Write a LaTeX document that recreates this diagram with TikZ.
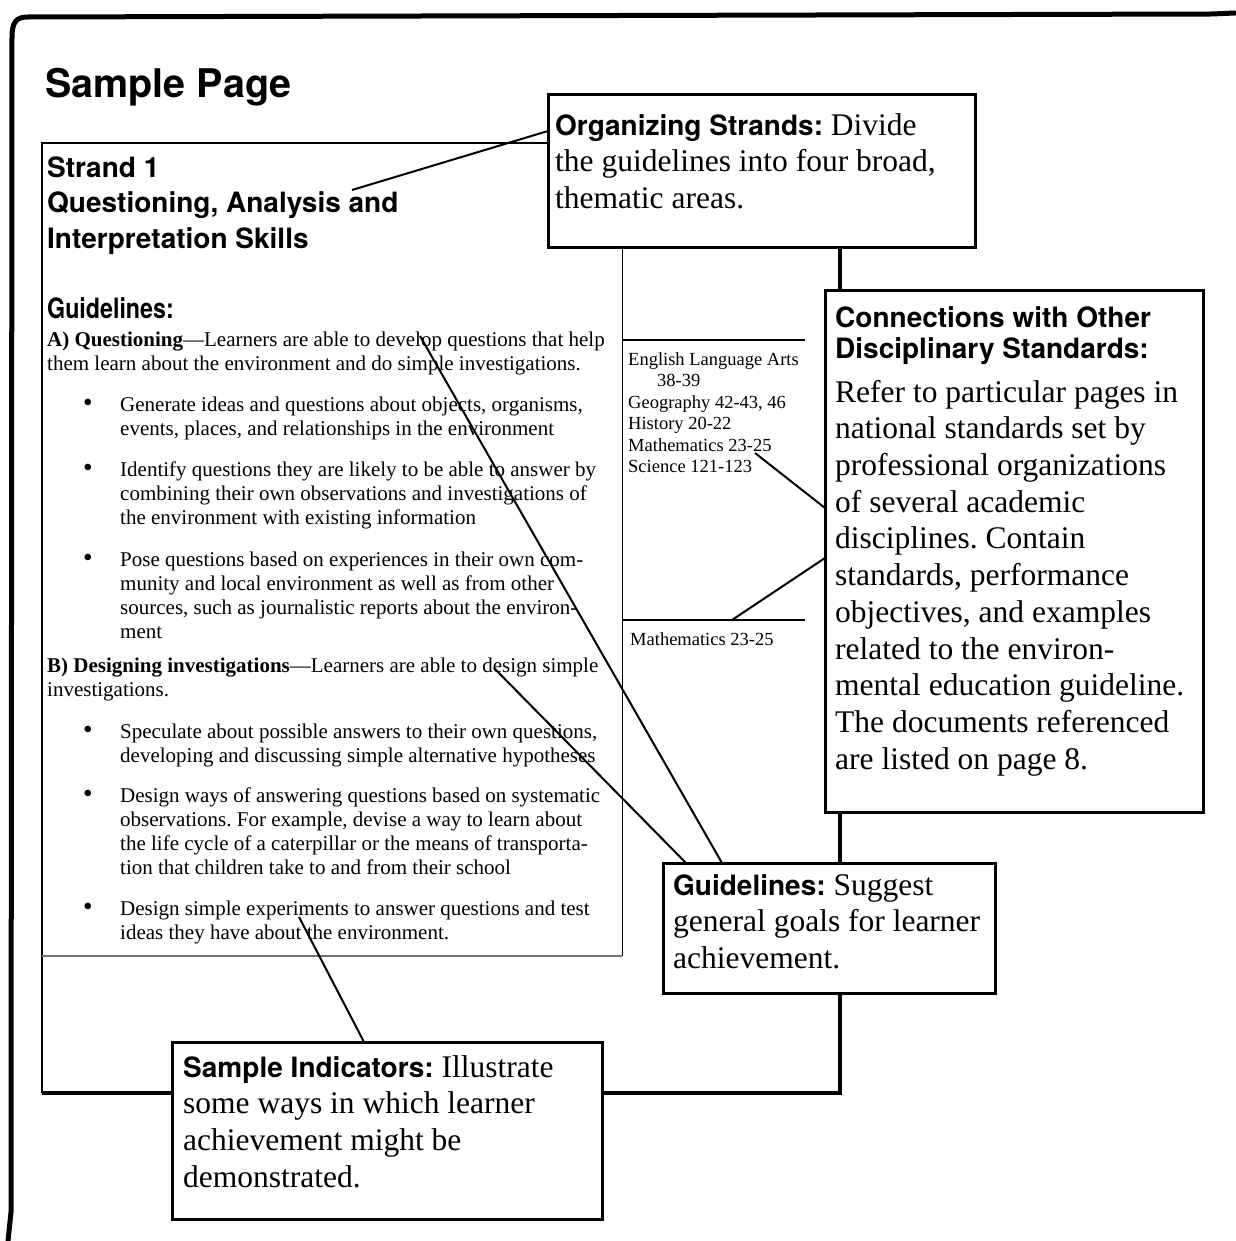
\documentclass[tikz,border=0pt]{standalone}
\usepackage{fontspec}
\usepackage{graphicx}
\setmainfont{Liberation Serif}
\setsansfont{TeX Gyre Heros}
\frenchspacing
\newcommand\boxhead[1]{{\sffamily\bfseries\fontsize{28}{36.7}\selectfont #1}}

\begin{document}
\begin{tikzpicture}[x=1pt, y=-1pt,
    callout/.style  = {draw, line width=3pt, fill=white, inner sep=0pt,
                       outer sep=0pt, anchor=north west},
    boxtext/.style  = {anchor=north west, inner sep=0pt, align=left,
                       font=\fontsize{31.5}{36.7}\selectfont},
    heading/.style  = {anchor=north west, inner sep=0pt, align=left,
                       font=\sffamily\bfseries\fontsize{28}{35.5}\selectfont},
    pagetext/.style = {anchor=north west, inner sep=0pt, align=left,
                       font=\fontsize{21}{24}\selectfont},
    sidetext/.style = {anchor=north west, inner sep=0pt, align=left,
                       font=\fontsize{18.5}{21.5}\selectfont},
    pointer/.style  = {line width=2pt},
  ]
  \useasboundingbox (0,0) rectangle (1235,1241);

  % frame of the sheet
  \draw[line width=5pt, line join=round, line cap=round]
    (1235,13) -- (1212,14) -- (28,17) .. controls (16,17) and (12,22) .. (12,38)
    -- (11,1212) -- (8,1241);

  % the page and its columns
  \draw[line width=2pt] (840,143) -- (42,143) -- (42,1093);
  \draw[line width=3.5pt] (42,1093) -- (840,1093) -- (840,143);
  \draw[line width=1pt] (622,143) -- (622,956);
  \draw[line width=2pt, black!55] (42,956) -- (622,956);
  \draw[line width=2pt] (622,340) -- (805,340);
  \draw[line width=2pt] (622,620) -- (805,620);

  \node[anchor=base west, inner sep=0pt,
    font=\sffamily\bfseries\fontsize{39.5}{44}\selectfont] (title) at (45,98) {Sample Page};

  \node[heading] (strand) at (47,152.15)
    {\strut Strand 1\\Questioning, Analysis and\\Interpretation Skills};
  \node[heading] (guidehead) at (47,293.15) {\strut\scalebox{0.83}[1]{Guidelines:}};

  \node[pagetext] (parA) at (47,329.2)
    {\strut\textbf{A) Questioning}---Learners are able to develop questions that help\\
     them learn about the environment and do simple investigations.};
  \node[pagetext] (item1) at (120,394.2)
    {\strut Generate ideas and questions about objects, organisms,\\
     events, places, and relationships in the environment};
  \node[pagetext] (item2) at (120,459.2)
    {\strut Identify questions they are likely to be able to answer by\\
     combining their own observations and investigations of\\
     the environment with existing information};
  \node[pagetext] (item3) at (120,549.2)
    {\strut Pose questions based on experiences in their own com-\\
     munity and local environment as well as from other\\
     sources, such as journalistic reports about the environ-\\
     ment};
  \node[pagetext] (parB) at (47,655.2)
    {\strut\textbf{B) Designing investigations}---Learners are able to design simple\\
     investigations.};
  \node[pagetext] (item4) at (120,721.2)
    {\strut Speculate about possible answers to their own questions,\\
     developing and discussing simple alternative hypotheses};
  \node[pagetext] (item5) at (120,785.2)
    {\strut Design ways of answering questions based on systematic\\
     observations. For example, devise a way to learn about\\
     the life cycle of a caterpillar or the means of transporta-\\
     tion that children take to and from their school};
  \node[pagetext] (item6) at (120,898.2)
    {\strut Design simple experiments to answer questions and test\\
     ideas they have about the environment.};
  \foreach \y [count=\i] in {394.2,459.2,549.2,721.2,785.2,898.2}
    \node[pagetext, anchor=north] (dot\i) at (88,\y) {\strut\scalebox{1.3}{\textbullet}};

  \node[sidetext] (arts) at (628,349.95)
    {\strut English Language Arts\\\hspace*{29pt}38-39\\Geography 42-43, 46\\
     History 20-22\\Mathematics 23-25\\Science 121-123};
  \node[sidetext] (mathlow) at (630,629.95) {\strut Mathematics 23-25};

  % callouts
  \node[callout, minimum width=427, minimum height=153] (org) at (548,95) {};
  \node[callout, minimum width=378, minimum height=522] (conn) at (825,290) {};
  \node[callout, minimum width=332, minimum height=130] (guide) at (663,863) {};
  \node[callout, minimum width=430, minimum height=177] (sample) at (172,1042) {};

  \node[boxtext] (orgtext) at (555,109.3)
    {\strut\boxhead{Organizing Strands:} Divide\\the guidelines into four broad,\\
     thematic areas.};
  \node[boxtext] (conntext) at (835,301.3)
    {\strut\boxhead{Connections with Other}\\[-5.7pt]
     \boxhead{Disciplinary Standards:}\\[7.3pt]
     Refer to particular pages in\\national standards set by\\
     professional organizations\\of several academic\\
     disciplines. Contain\\standards, performance\\
     objectives, and examples\\related to the environ-\\
     mental education guideline.\\The documents referenced\\
     are listed on page 8.};
  \node[boxtext] (guidetext) at (673,869.3)
    {\strut\boxhead{Guidelines:} Suggest\\general goals for learner\\achievement.};
  \node[boxtext] (sampletext) at (183,1051.3)
    {\strut\boxhead{Sample Indicators:} Illustrate\\some ways in which learner\\
     achievement might be\\demonstrated.};

  % pointers
  \coordinate (and) at (352,190);
  \coordinate (develop) at (420,336);
  \coordinate (design) at (494,668);
  \coordinate (about) at (299,917);
  \coordinate (range) at (755,453);
  \coordinate (rule) at (732,620);
  \draw[pointer] (and) -- ([yshift=-36pt]org.north west);
  \draw[pointer] (develop) -- ([xshift=59pt]guide.north west);
  \draw[pointer] (design) -- ([xshift=23pt]guide.north west);
  \draw[pointer] (about) -- ([xshift=192pt]sample.north west);
  \draw[pointer] (range) -- ([yshift=-218pt]conn.north west);
  \draw[pointer] (rule) -- ([yshift=-268pt]conn.north west);
\end{tikzpicture}
\end{document}
